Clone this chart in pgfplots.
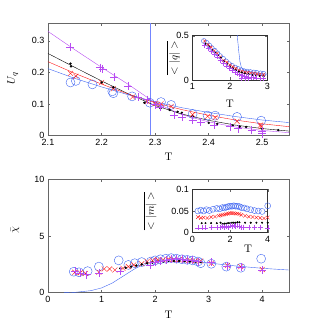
\documentclass[border=0pt]{standalone}
\usepackage[no-math]{fontspec}
\setmainfont{Liberation Sans}
\usepackage{pgfplots}
\pgfplotsset{compat=1.18}

\definecolor{frame}{rgb}{0.40,0.40,0.40}
\definecolor{cblue}{rgb}{0.25,0.40,0.95}
\definecolor{cred}{rgb}{1.00,0.10,0.10}
\definecolor{cpurp}{rgb}{0.72,0.30,0.95}
\definecolor{vline}{rgb}{0.45,0.52,1.00}

\pgfplotsset{
  panel/.style={
    scale only axis, anchor=south west,
    axis line style={frame, semithick},
    tick style={frame, thin}, tick align=inside, major tick length=2.5pt,
    tick label style={font=\fontsize{9}{10}\selectfont},
    /pgf/number format/assume math mode=true,
    label style={font=\fontsize{11}{12}\selectfont},
    scaled ticks=false,
  },
  circ/.style={only marks, mark=o, mark size=4.5pt, cblue, mark options={thin}},
  crs/.style={only marks, mark=x, mark size=3.5pt, cred, mark options={thin}},
  dot/.style={only marks, mark=*, mark size=1pt, black},
  pls/.style={only marks, mark=+, mark size=4pt, cpurp, mark options={thin}},
}

\begin{document}
\begin{tikzpicture}
\path[use as bounding box] (0pt,0pt) rectangle (321pt,329pt);

% ---------- top panel
\begin{axis}[panel, at={(48pt,193.5pt)}, width=241pt, height=112pt,
  xmin=2.1, xmax=2.55, ymin=0, ymax=0.355,
  xtick={2.1,2.2,2.3,2.4,2.5}, ytick={0,0.1,0.2,0.3},
  xticklabels={2.1,2.2,2.3,2.4,2.5}, yticklabels={0,0.1,0.2,0.3},
  xlabel={$\mathrm{T}$}, ylabel={$U_q$},
  xlabel style={at={(axis description cs:0.5,-0.19)}, anchor=center},
  ylabel style={at={(axis description cs:-0.146,0.51)}, anchor=center},
]
\addplot[vline, line width=0.9pt] coordinates {(2.292,0) (2.292,0.355)};
\addplot[cpurp, thin] coordinates {(2.1,0.330) (2.15,0.272) (2.2,0.216) (2.25,0.162) (2.28,0.127) (2.3,0.104) (2.35,0.066) (2.4,0.043) (2.45,0.027) (2.5,0.016) (2.55,0.009)};
\addplot[black, thin] coordinates {(2.1,0.260) (2.15,0.216) (2.2,0.173) (2.25,0.132) (2.3,0.095) (2.35,0.068) (2.4,0.048) (2.45,0.033) (2.5,0.022) (2.55,0.014)};
\addplot[cred, thin] coordinates {(2.1,0.234) (2.15,0.197) (2.2,0.163) (2.25,0.131) (2.3,0.104) (2.35,0.082) (2.4,0.064) (2.45,0.049) (2.5,0.037) (2.55,0.028)};
\addplot[cblue, thin] coordinates {(2.1,0.212) (2.15,0.181) (2.2,0.154) (2.25,0.129) (2.3,0.107) (2.35,0.088) (2.4,0.073) (2.45,0.060) (2.5,0.049) (2.55,0.041)};
\addplot[circ] coordinates {(2.142,0.168) (2.152,0.173) (2.183,0.162) (2.220,0.140) (2.222,0.134) (2.257,0.124) (2.290,0.104) (2.311,0.106) (2.330,0.097) (2.370,0.068) (2.398,0.063) (2.412,0.063) (2.453,0.059) (2.498,0.047)};
\addplot[crs] coordinates {(2.142,0.197) (2.152,0.188) (2.200,0.168) (2.222,0.148) (2.258,0.122) (2.285,0.108) (2.300,0.101) (2.311,0.100) (2.330,0.092) (2.370,0.066) (2.398,0.061) (2.412,0.057) (2.453,0.045) (2.497,0.033) (2.498,0.028)};
\addplot[dot] coordinates {(2.142,0.228) (2.143,0.219) (2.200,0.168) (2.222,0.153) (2.280,0.104) (2.310,0.086) (2.327,0.081) (2.342,0.075) (2.350,0.072) (2.370,0.060) (2.400,0.040) (2.416,0.037) (2.445,0.031) (2.458,0.028) (2.470,0.027) (2.500,0.021) (2.530,0.017)};
\addplot[pls] coordinates {(2.142,0.281) (2.197,0.215) (2.202,0.210) (2.223,0.184) (2.250,0.157) (2.268,0.122) (2.285,0.114) (2.300,0.098) (2.310,0.090) (2.335,0.064) (2.350,0.058) (2.370,0.050) (2.385,0.043) (2.410,0.033) (2.440,0.028) (2.455,0.022) (2.480,0.017) (2.500,0.013) (2.500,0.006)};
\end{axis}

% ---------- top inset
\begin{axis}[panel, at={(192.3pt,249pt)}, width=75pt, height=44.3pt,
  axis background/.style={fill=white},
  axis line style={black!80, semithick},
  xmin=1, xmax=3, ymin=0, ymax=0.5,
  xtick={1,2,3}, ytick={0,0.5}, xticklabels={1,2,3}, yticklabels={0,0.5},
  xlabel={$\mathrm{T}$}, ylabel={$\overline{<|q|>}$},
  xlabel style={at={(axis description cs:0.5,-0.54)}, anchor=center},
  ylabel style={at={(axis description cs:-0.25,0.5)}, anchor=center},
]
\addplot[cblue, thin] coordinates {(2.19,0.56) (2.21,0.45) (2.24,0.32) (2.27,0.21) (2.31,0.14) (2.4,0.11) (2.6,0.088) (2.8,0.074) (3.0,0.064)};
\addplot[circ, mark size=2.5pt] coordinates {(1.31,0.44) (1.38,0.42) (1.45,0.39) (1.52,0.36) (1.6,0.33) (1.67,0.30) (1.74,0.27) (1.82,0.24) (1.9,0.21) (1.98,0.18) (2.06,0.16) (2.14,0.14) (2.22,0.125) (2.3,0.11) (2.38,0.10) (2.46,0.095) (2.55,0.09) (2.64,0.085) (2.72,0.08) (2.82,0.075) (2.9,0.07)};
\addplot[crs, mark size=2pt] coordinates {(1.33,0.44) (1.42,0.40) (1.5,0.37) (1.58,0.33) (1.66,0.30) (1.75,0.26) (1.84,0.22) (1.92,0.20) (2.0,0.17) (2.08,0.15) (2.16,0.13) (2.24,0.11) (2.32,0.10) (2.4,0.09) (2.48,0.085) (2.56,0.08) (2.64,0.075) (2.72,0.07) (2.8,0.065) (2.9,0.06)};
\addplot[dot, mark size=0.8pt] coordinates {(1.35,0.41) (1.44,0.38) (1.52,0.34) (1.6,0.31) (1.68,0.28) (1.76,0.25) (1.84,0.21) (1.92,0.18) (2.0,0.15) (2.08,0.13) (2.16,0.11) (2.24,0.095) (2.32,0.085) (2.4,0.075) (2.5,0.065) (2.6,0.055) (2.7,0.05) (2.8,0.045) (2.9,0.04)};
\addplot[pls, mark size=2.5pt] coordinates {(1.33,0.39) (1.42,0.36) (1.5,0.32) (1.58,0.29) (1.66,0.26) (1.74,0.22) (1.82,0.19) (1.9,0.16) (1.98,0.13) (2.06,0.11) (2.14,0.09) (2.2,0.07) (2.26,0.06) (2.32,0.05) (2.38,0.045) (2.44,0.04) (2.5,0.035) (2.56,0.03) (2.62,0.03) (2.7,0.025) (2.8,0.02) (2.9,0.02) (2.3,0.02) (2.4,0.02) (2.5,0.015)};
\end{axis}

% ---------- bottom panel
\begin{axis}[panel, at={(48pt,36.3pt)}, width=241pt, height=113.4pt,
  xmin=0, xmax=4.5, ymin=0, ymax=10,
  xtick={0,1,2,3,4}, ytick={0,5,10},
  xlabel={$\mathrm{T}$}, ylabel={$\bar{\chi}$},
  xlabel style={at={(axis description cs:0.5,-0.197)}, anchor=center},
  ylabel style={at={(axis description cs:-0.137,0.55)}, anchor=center},
]
\addplot[cblue, thin] coordinates {(0.3,0) (0.5,0.03) (0.8,0.18) (1.0,0.42) (1.2,0.85) (1.4,1.45) (1.6,2.05) (1.8,2.55) (2.0,2.82) (2.3,2.92) (2.6,2.86) (3.0,2.62) (3.5,2.36) (4.0,2.15) (4.5,2.0)};
\addplot[circ] coordinates {(0.48,1.85) (0.58,1.8) (0.74,1.9) (0.95,2.3) (1.32,2.85) (1.5,2.45) (1.62,2.6) (1.75,2.7) (1.92,2.75) (2.0,2.85) (2.1,2.95) (2.2,3.0) (2.3,3.05) (2.4,3.0) (2.5,2.95) (2.6,2.9) (2.7,2.85) (2.8,2.75) (2.85,2.6) (3.05,2.55) (3.33,2.3) (3.6,2.2) (3.98,3.0)};
\addplot[crs] coordinates {(0.5,1.8) (0.6,1.75) (0.7,1.7) (0.95,1.8) (1.05,2.1) (1.15,2.1) (1.25,2.0) (1.4,2.15) (1.5,2.3) (1.6,2.45) (1.75,2.55) (1.85,2.75) (1.95,2.85) (2.05,2.9) (2.15,2.9) (2.25,2.95) (2.35,2.9) (2.45,2.9) (2.55,2.85) (2.65,2.85) (2.75,2.8) (2.85,2.8) (3.05,2.6) (3.35,2.4) (3.6,2.3) (4.0,2.05)};
\addplot[dot] coordinates {(1.35,2.15) (1.45,2.2) (1.55,2.3) (1.65,2.4) (1.75,2.5) (1.85,2.6) (1.95,2.65) (2.05,2.7) (2.15,2.75) (2.25,2.8) (2.35,2.8) (2.45,2.8) (2.55,2.8) (2.65,2.75) (2.75,2.75) (2.85,2.7)};
\addplot[pls] coordinates {(0.5,1.9) (0.6,1.7) (0.72,1.6) (0.95,1.7) (1.35,1.9) (1.9,2.4) (2.0,2.7) (2.1,2.8) (2.2,2.9) (2.3,2.95) (2.4,3.0) (2.5,2.95) (2.6,2.9) (2.7,2.85) (2.8,2.75) (3.05,2.7) (3.35,2.35) (3.6,2.25) (4.0,2.0)};
\end{axis}

% ---------- bottom inset
\begin{axis}[panel, at={(192.3pt,96.3pt)}, width=75.4pt, height=43.4pt,
  axis background/.style={fill=white},
  axis line style={black!80, semithick},
  xmin=0, xmax=4, ymin=0, ymax=0.1,
  xtick={0,2,4}, ytick={0,0.05,0.1}, xticklabels={0,2,4}, yticklabels={0,0.05,0.1},
  xlabel={$\mathrm{T}$}, ylabel={$\overline{<|m|>}$},
  xlabel style={at={(axis description cs:0.74,-0.36)}, anchor=center},
  ylabel style={at={(axis description cs:-0.56,0.5)}, anchor=center},
]
\addplot[circ, mark size=3pt] coordinates {(0.3,0.050) (0.45,0.052) (0.6,0.050) (0.75,0.053) (0.9,0.051) (1.1,0.054) (1.3,0.056) (1.45,0.055) (1.6,0.058) (1.7,0.057) (1.8,0.059) (1.9,0.060) (2.0,0.061) (2.1,0.061) (2.2,0.062) (2.3,0.061) (2.4,0.061) (2.5,0.060) (2.6,0.058) (2.75,0.057) (2.9,0.055) (3.1,0.053) (3.3,0.051) (3.5,0.050) (3.7,0.049) (4.0,0.062)};
\addplot[crs, mark size=2.4pt] coordinates {(0.3,0.036) (0.45,0.034) (0.6,0.035) (0.8,0.034) (1.0,0.036) (1.2,0.037) (1.4,0.039) (1.5,0.040) (1.6,0.041) (1.7,0.042) (1.8,0.043) (1.9,0.044) (2.0,0.045) (2.1,0.045) (2.2,0.045) (2.3,0.044) (2.4,0.044) (2.5,0.043) (2.6,0.041) (2.8,0.039) (3.0,0.037) (3.2,0.036) (3.4,0.035) (3.6,0.034) (3.8,0.033) (4.0,0.035)};
\addplot[dot, mark size=0.8pt] coordinates {(0.5,0.022) (0.7,0.022) (1.0,0.022) (1.3,0.022) (1.5,0.023) (1.6,0.020) (1.7,0.021) (1.8,0.021) (1.9,0.022) (2.0,0.022) (2.1,0.023) (2.2,0.023) (2.3,0.023) (2.4,0.024) (2.5,0.024) (2.8,0.023) (3.1,0.023) (3.4,0.023) (3.7,0.023) (4.0,0.023)};
\addplot[pls, mark size=2.5pt] coordinates {(0.3,0.011) (0.5,0.011) (0.7,0.011) (1.0,0.012) (1.3,0.012) (1.5,0.012) (1.6,0.014) (1.7,0.013) (1.8,0.015) (1.9,0.013) (2.0,0.016) (2.1,0.014) (2.2,0.017) (2.3,0.015) (2.4,0.016) (2.5,0.014) (2.6,0.013) (2.7,0.012) (3.0,0.012) (3.3,0.012) (3.6,0.012) (4.0,0.011)};
\end{axis}
\end{tikzpicture}
\end{document}
